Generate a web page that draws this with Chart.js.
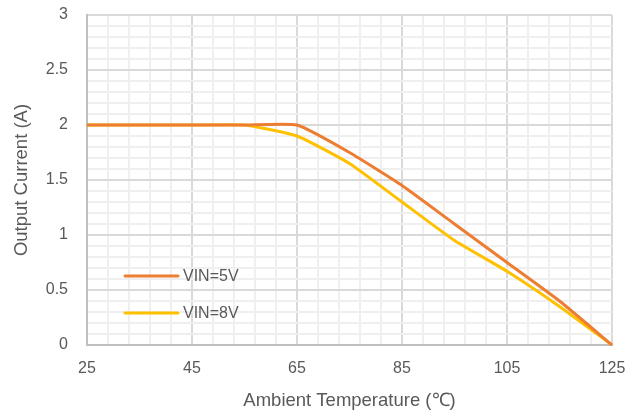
<!DOCTYPE html>
<html>
<head>
<meta charset="utf-8">
<script src="https://cdn.jsdelivr.net/npm/chart.js@4.4.1/dist/chart.umd.min.js"></script>
<style>
    html, body { margin: 0; padding: 0; background: #fff; }
    #wrap { width: 638px; height: 412px; position: relative; }
</style>
</head>
<body>
<div id="wrap"><canvas id="chart"></canvas></div>
<script>
// Derating data
const temps = [25, 35, 45, 55, 65, 75, 85, 95, 105, 115, 125];
const vin5 = [2, 2, 2, 2, 2, 1.75, 1.45, 1.1, 0.75, 0.4, 0];
const vin8 = [2, 2, 2, 2, 1.9, 1.65, 1.3, 0.95, 0.67, 0.35, 0];
const seriesLabels = ['VIN=5V', 'VIN=8V'];
const xTickLabels = [25, 45, 65, 85, 105, 125];
const yTickLabels = ['0', '0.5', '1', '1.5', '2', '2.5', '3'];

const FONT = "'Liberation Sans', Arial, sans-serif";
const TEXT = '#595959';
const MAJOR = '#d9d9d9';
const MINOR = '#efefef';

function toPoints(ys) {
    return temps.map((t, i) => ({ x: t, y: ys[i] }));
}

// legend sits inside the plot, lower left
const insideLegend = {
    id: 'insideLegend',
    afterDatasetsDraw(chart) {
        const { ctx, chartArea } = chart;
        const rows = [261, 298];
        ctx.save();
        chart.data.datasets.forEach((ds, i) => {
            const y = chartArea.top + rows[i];
            const x0 = chartArea.left + 38;
            ctx.strokeStyle = ds.borderColor;
            ctx.lineWidth = 3;
            ctx.lineCap = 'round';
            ctx.beginPath();
            ctx.moveTo(x0, y);
            ctx.lineTo(x0 + 53, y);
            ctx.stroke();
            ctx.fillStyle = TEXT;
            ctx.font = '16px ' + FONT;
            ctx.textBaseline = 'middle';
            ctx.fillText(ds.label, x0 + 58, y + 1);
        });
        ctx.restore();
    }
};

const ctx = document.getElementById('chart').getContext('2d');
new Chart(ctx, {
    type: 'line',
    data: {
        datasets: [
            {
                label: seriesLabels[0],
                data: toPoints(vin5),
                borderColor: '#ed7d31',
                borderWidth: 3,
                pointRadius: 0,
                tension: 0.15,
                clip: false
            },
            {
                label: seriesLabels[1],
                data: toPoints(vin8),
                borderColor: '#ffc000',
                borderWidth: 3,
                pointRadius: 0,
                tension: 0.15,
                clip: false
            }
        ]
    },
    options: {
        responsive: true,
        maintainAspectRatio: false,
        animation: false,
        layout: { padding: { top: 15, right: 26, left: 0, bottom: 0 } },
        plugins: {
            legend: { display: false },
            tooltip: { enabled: false }
        },
        scales: {
            x: {
                type: 'linear',
                min: 25,
                max: 125,
                afterBuildTicks(scale) {
                    const ticks = [];
                    for (let v = 25; v <= 125; v += 4) ticks.push({ value: v });
                    scale.ticks = ticks;
                },
                afterFit(scale) {
                    scale.height = 67;
                    scale.paddingLeft = 0;
                    scale.paddingRight = 0;
                },
                ticks: {
                    autoSkip: false,
                    maxRotation: 0,
                    padding: 14,
                    color: TEXT,
                    font: { family: FONT, size: 16 },
                    callback: (v) => xTickLabels.includes(v) ? String(v) : ''
                },
                grid: {
                    drawTicks: false,
                    lineWidth: 2,
                    color: (c) => c.tick && xTickLabels.includes(c.tick.value) ? MAJOR : MINOR
                },
                border: { color: '#bfbfbf', width: 2 },
                title: {
                    display: true,
                    text: 'Ambient Temperature (℃)',
                    color: TEXT,
                    font: { family: FONT, size: 18.5 },
                    padding: { top: 4, bottom: 0 }
                }
            },
            y: {
                min: 0,
                max: 3,
                afterBuildTicks(scale) {
                    const ticks = [];
                    for (let i = 0; i <= 30; i++) ticks.push({ value: i / 10 });
                    scale.ticks = ticks;
                },
                afterFit(scale) {
                    scale.width = 87;
                    scale.paddingTop = 0;
                    scale.paddingBottom = 0;
                },
                ticks: {
                    autoSkip: false,
                    padding: 19,
                    color: TEXT,
                    font: { family: FONT, size: 16 },
                    callback: (v) => {
                        const s = String(Math.round(v * 10) / 10);
                        return yTickLabels.includes(s) ? s : '';
                    }
                },
                grid: {
                    drawTicks: false,
                    lineWidth: 2,
                    color: (c) => {
                        if (!c.tick) return MINOR;
                        const s = String(Math.round(c.tick.value * 10) / 10);
                        return yTickLabels.includes(s) ? MAJOR : MINOR;
                    }
                },
                border: { color: '#bfbfbf', width: 2 },
                title: {
                    display: true,
                    text: 'Output Current (A)',
                    color: TEXT,
                    font: { family: FONT, size: 18.5 },
                    padding: { top: 11, bottom: 0 }
                }
            }
        }
    },
    plugins: [insideLegend]
});
</script>
</body>
</html>
